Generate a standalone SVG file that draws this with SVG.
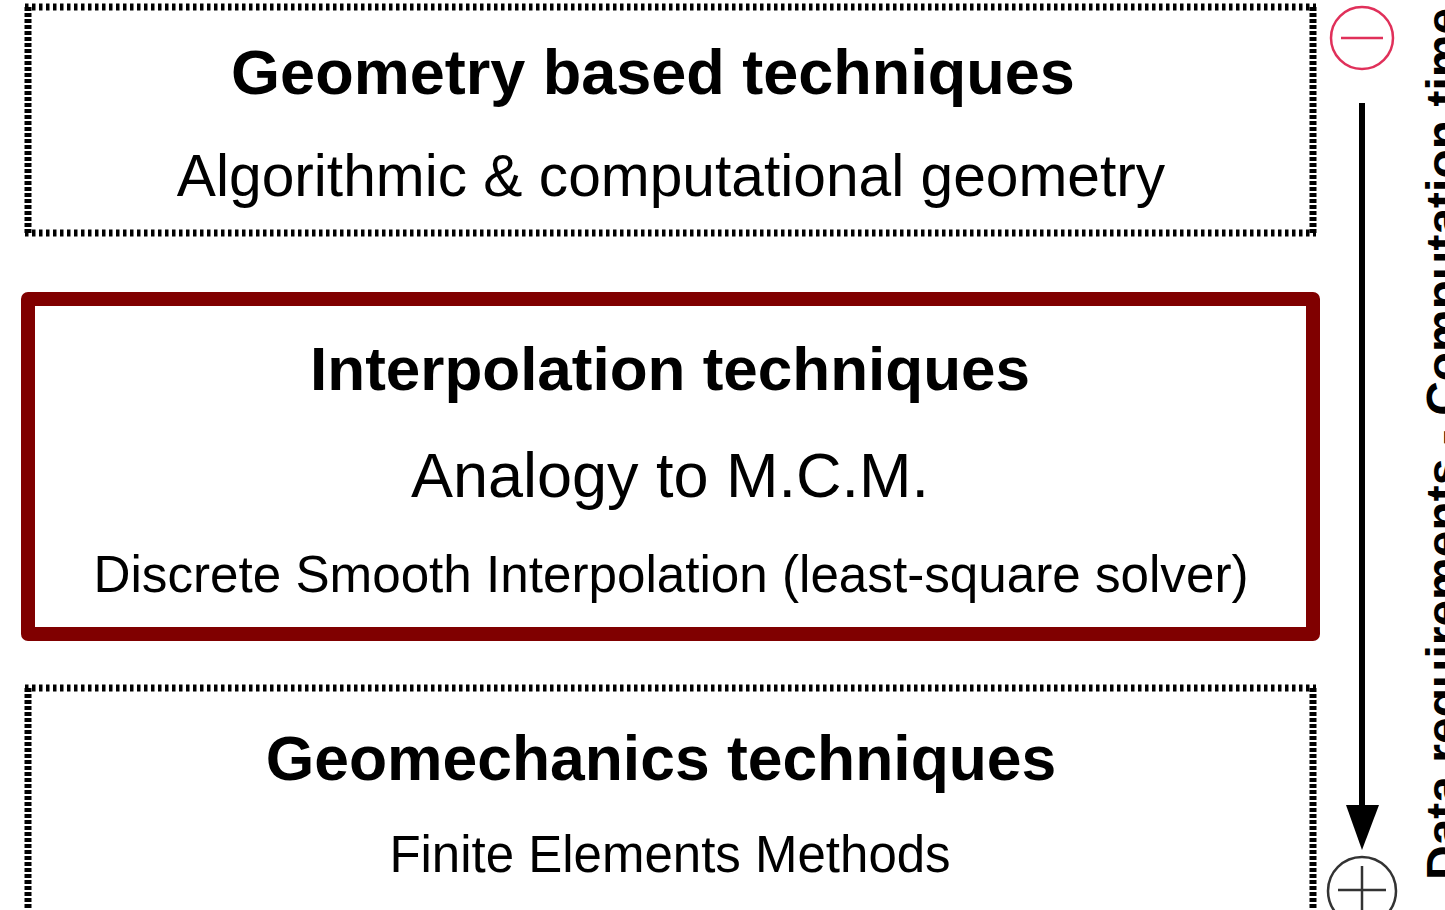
<svg xmlns="http://www.w3.org/2000/svg" width="1445" height="910" viewBox="0 0 1445 910">
<style>
.hd{stroke:#000;stroke-width:7;stroke-dasharray:3.5 3.5;fill:none}
.vd{stroke:#000;stroke-width:7;stroke-dasharray:4 2;fill:none}
.b{font-family:"Liberation Sans",Arial,sans-serif;font-weight:bold;fill:#000;text-anchor:middle}
.r{font-family:"Liberation Sans",Arial,sans-serif;fill:#000;text-anchor:middle}
</style>
<rect width="1445" height="910" fill="#fff"/>
<g id="geometry">
<line class="hd" x1="25" y1="7" x2="1316" y2="7"/>
<line class="hd" x1="25" y1="233" x2="1316" y2="233"/>
<line class="vd" x1="28" y1="7" x2="28" y2="233"/>
<line class="vd" x1="1313" y1="7" x2="1313" y2="233"/>
<text class="b" x="653" y="94" font-size="63">Geometry based techniques</text>
<text class="r" x="671" y="196" font-size="58.7">Algorithmic &amp; computational geometry</text>
</g>
<g id="interpolation">
<rect x="28" y="299" width="1285" height="335" fill="none" stroke="#800000" stroke-width="14" stroke-linejoin="round"/>
<text class="b" x="670" y="390" font-size="62">Interpolation techniques</text>
<text class="r" x="670" y="497" font-size="63">Analogy to M.C.M.</text>
<text class="r" x="671" y="592" font-size="51.2">Discrete Smooth Interpolation (least-square solver)</text>
</g>
<g id="geomechanics">
<line class="hd" x1="25" y1="688" x2="1316" y2="688"/>
<line class="vd" x1="28" y1="688" x2="28" y2="915"/>
<line class="vd" x1="1313" y1="688" x2="1313" y2="915"/>
<text class="b" x="661" y="780" font-size="62.4">Geomechanics techniques</text>
<text class="r" x="670" y="872" font-size="51">Finite Elements Methods</text>
</g>
<g id="minus">
<circle cx="1362" cy="38" r="31" fill="none" stroke="#e0305a" stroke-width="2.5"/>
<line x1="1341" y1="38" x2="1383" y2="38" stroke="#e0305a" stroke-width="2.5"/>
</g>
<g id="plus">
<circle cx="1362" cy="891" r="34" fill="none" stroke="#333" stroke-width="2.5"/>
<line x1="1338" y1="890" x2="1386" y2="890" stroke="#333" stroke-width="2.5"/>
<line x1="1362" y1="866" x2="1362" y2="915" stroke="#333" stroke-width="2.5"/>
</g>
<g id="connectors">
<line x1="1362" y1="103" x2="1362" y2="810" stroke="#000" stroke-width="6"/>
<polygon points="1346,805 1379,805 1362,850" fill="#000"/>
</g>
<g id="axis-label">
<text font-family="'Liberation Sans',Arial,sans-serif" font-weight="bold" font-size="48" transform="translate(1460,880) rotate(-90)">Data requirements - Computation time</text>
</g>
</svg>
